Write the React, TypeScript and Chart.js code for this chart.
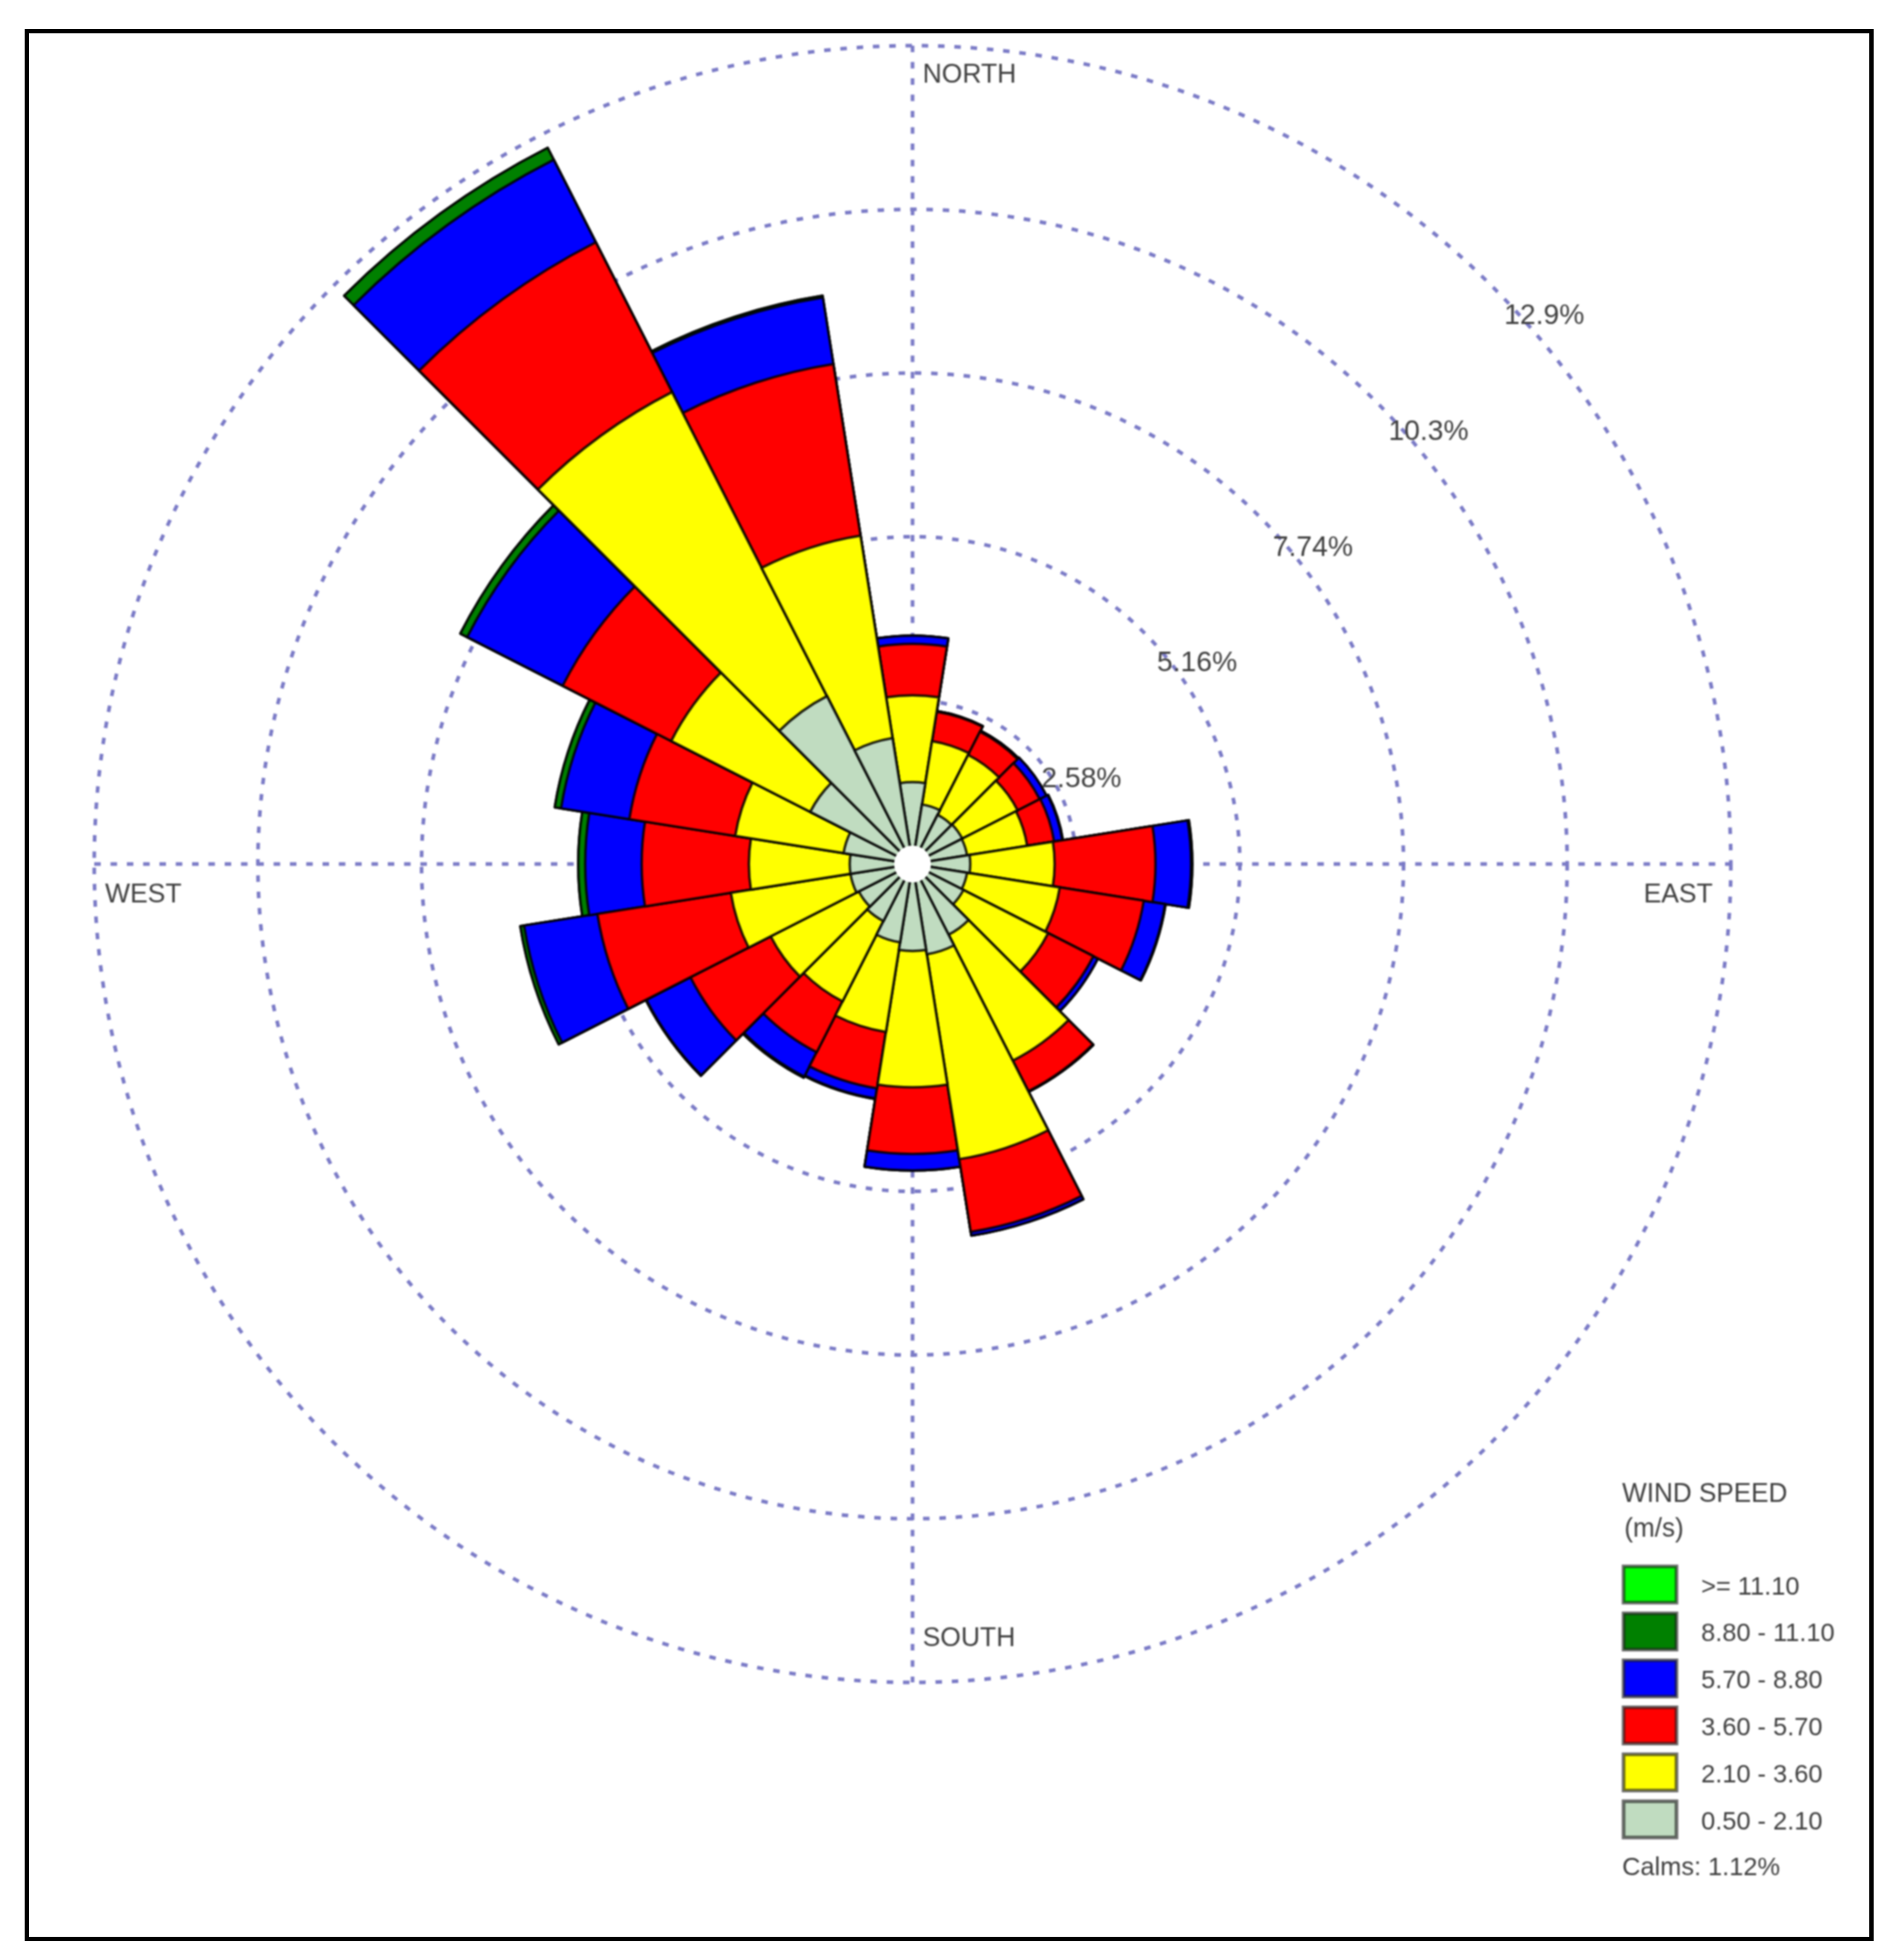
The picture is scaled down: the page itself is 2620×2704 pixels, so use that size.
import { useEffect, useRef } from "react";
import { Chart, registerables } from "chart.js";

Chart.register(...registerables);

// 20 direction sectors, clockwise from north, 18 degrees each
const directions = [
  "0", "18", "36", "54", "72", "90", "108", "126", "144", "162",
  "180", "198", "216", "234", "252", "270", "288", "306", "324", "342",
];

// frequency (%) of each speed class per direction
const band050 = [1.29, 0.95, 0.87, 0.88, 0.87, 0.91, 0.87, 0.9, 1.25, 1.44, 1.37, 1.25, 1.01, 0.95, 0.99, 0.99, 1.1, 1.81, 2.97, 2.01];
const band210 = [1.37, 1.01, 1.06, 0.98, 0.96, 1.33, 1.48, 1.5, 2.23, 3.27, 2.15, 1.43, 1.42, 1.56, 1.91, 1.59, 1.73, 2.46, 5.38, 3.23];
const band360 = [0.81, 0.47, 0.41, 0.39, 0.43, 1.59, 1.34, 0.8, 0.54, 1.16, 1.05, 0.9, 0.9, 1.42, 2.13, 1.69, 1.69, 1.92, 2.65, 2.74];
const band570 = [0.13, 0.01, 0.02, 0.12, 0.13, 0.56, 0.34, 0.08, 0.01, 0.06, 0.26, 0.16, 0.43, 0.78, 1.17, 0.89, 1.09, 1.69, 1.46, 1.06];
const band880 = [0, 0, 0, 0, 0.01, 0.02, 0.01, 0, 0, 0, 0, 0.01, 0.02, 0.01, 0.06, 0.11, 0.1, 0.12, 0.21, 0.03];
const band1110 = [0, 0, 0, 0, 0, 0, 0, 0, 0, 0, 0, 0, 0, 0, 0, 0, 0, 0, 0, 0];

const bands = [band050, band210, band360, band570, band880, band1110];
const bandLabels = ["0.50 - 2.10", "2.10 - 3.60", "3.60 - 5.70", "5.70 - 8.80", "8.80 - 11.10", ">= 11.10"];
const bandColors = ["#c0dcc0", "#ffff00", "#ff0000", "#0000ff", "#008000", "#00ff00"];

const ringValues = [0, 2.58, 5.16, 7.74, 10.32, 12.9];
const ringLabels = ["", "2.58%", "5.16%", "7.74%", "10.3%", "12.9%"];
const calmsHole = 0.29;
const calmsText = "Calms: 1.12%";
const legendTitle = ["WIND SPEED", "(m/s)"];

const DOT_COLOR = "#7a7ac6";
const DOTS = [9, 13.5];
const TEXT = "#404040";
const font = (size: number) => `${size}px "Liberation Sans"`;

// bars are nested: each class is drawn out to its running total, inner ones on top
let running = directions.map(() => 0);
const datasets = bands.map((band, b) => {
  running = running.map((v, i) => v + band[i]);
  return {
    label: bandLabels[b],
    data: running.slice(),
    backgroundColor: bandColors[b],
    borderColor: "rgba(0,0,0,0.85)",
    borderWidth: 3.5,
    borderJoinStyle: "round" as const,
  };
});

const windRose = {
  id: "windRose",
  beforeDatasetsDraw(chart: Chart) {
    const { ctx } = chart;
    const r: any = chart.scales.r;
    ctx.save();
    ctx.strokeStyle = DOT_COLOR;
    ctx.lineWidth = 5;
    ctx.setLineDash(DOTS);
    ctx.beginPath();
    ctx.moveTo(r.xCenter - r.drawingArea, r.yCenter);
    ctx.lineTo(r.xCenter + r.drawingArea, r.yCenter);
    ctx.moveTo(r.xCenter, r.yCenter - r.drawingArea);
    ctx.lineTo(r.xCenter, r.yCenter + r.drawingArea);
    ctx.stroke();
    ctx.restore();
  },
  afterDatasetsDraw(chart: Chart) {
    const { ctx } = chart;
    const r: any = chart.scales.r;
    ctx.save();
    ctx.fillStyle = "#fff";
    ctx.beginPath();
    ctx.arc(r.xCenter, r.yCenter, r.getDistanceFromCenterForValue(calmsHole), 0, Math.PI * 2);
    ctx.fill();

    ctx.fillStyle = TEXT;
    ctx.textBaseline = "middle";

    // ring labels along the 45 degree line
    ctx.font = font(39);
    ctx.textAlign = "left";
    ringLabels.forEach((label, i) => {
      const d = r.getDistanceFromCenterForValue(ringValues[i]) * Math.SQRT1_2;
      ctx.fillText(label, r.xCenter + d + 18, r.yCenter - d + 43);
    });

    ctx.font = font(36.5);
    ctx.fillText("NORTH", r.xCenter + 14, r.yCenter - r.drawingArea + 41);
    ctx.fillText("SOUTH", r.xCenter + 14, r.yCenter + r.drawingArea - 60);
    ctx.fillText("WEST", r.xCenter - r.drawingArea + 15, r.yCenter + 43);
    ctx.textAlign = "right";
    ctx.fillText("EAST", r.xCenter + r.drawingArea - 25, r.yCenter + 43);
    ctx.restore();

    // legend, strongest class on top
    ctx.save();
    ctx.textBaseline = "middle";
    ctx.fillStyle = TEXT;
    ctx.font = font(36);
    ctx.fillText(legendTitle[0], 2238, 2062);
    ctx.fillText(legendTitle[1], 2241, 2110);
    ctx.font = font(35);
    const rows = [...bandLabels].reverse();
    const colors = [...bandColors].reverse();
    rows.forEach((label, i) => {
      const y = 2161 + i * 64.8;
      ctx.fillStyle = colors[i];
      ctx.fillRect(2240, y, 73, 50);
      ctx.strokeStyle = "rgba(30,30,30,0.65)";
      ctx.lineWidth = 5;
      ctx.strokeRect(2240, y, 73, 50);
      ctx.fillStyle = TEXT;
      ctx.fillText(label, 2347, y + 29);
    });
    ctx.fillText(calmsText, 2238, 2577);
    ctx.restore();
  },
};

export default function App() {
  const canvasRef = useRef<HTMLCanvasElement | null>(null);

  useEffect(() => {
    if (!canvasRef.current) return;
    const chart = new Chart(canvasRef.current, {
      type: "polarArea",
      data: { labels: directions, datasets },
      options: {
        responsive: false,
        animation: false,
        devicePixelRatio: 1,
        layout: { padding: { left: 130, right: 232, top: 63, bottom: 383 } },
        plugins: { legend: { display: false }, tooltip: { enabled: false } },
        scales: {
          r: {
            min: 0,
            max: 12.9,
            startAngle: -9,
            afterBuildTicks: (s: any) => {
              s.ticks = ringValues.map((value) => ({ value }));
            },
            ticks: { display: false },
            pointLabels: { display: false },
            angleLines: { display: false },
            grid: { circular: true, color: DOT_COLOR, lineWidth: 5 },
            border: { dash: DOTS },
          },
        },
      },
      plugins: [windRose],
    });
    return () => chart.destroy();
  }, []);

  // the source picture is a soft upscale, only the outer frame stays sharp
  return (
    <div style={{ position: "fixed", left: 0, top: 0, width: 2620, height: 2704, background: "#fff" }}>
      <canvas ref={canvasRef} width={2620} height={2704} style={{ display: "block", filter: "blur(1.3px)" }} />
      <div
        style={{
          position: "absolute",
          left: 34,
          top: 40,
          width: 2551,
          height: 2638,
          border: "6px solid #000",
          boxSizing: "border-box",
        }}
      />
    </div>
  );
}
